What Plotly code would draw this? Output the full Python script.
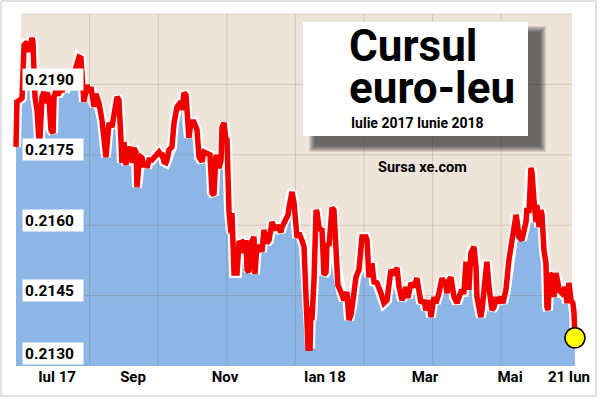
import plotly.graph_objects as go

# days since 3 Jul 2017
days = [0.0,0.6,2.5,3.8,5.1,6.9,8.2,10.1,10.7,12.0,
13.3,14.5,15.2,16.4,17.7,18.9,19.6,20.8,22.1,23.4,
24.0,25.3,26.5,28.4,29.0,30.3,32.2,34.7,36.6,37.9,
39.8,41.0,41.7,42.9,44.8,46.1,47.4,49.3,50.5,52.4,
54.3,56.8,58.7,60.6,63.8,65.0,66.3,66.9,68.2,69.5,
70.1,71.4,72.6,73.3,74.5,75.8,76.4,77.7,78.9,79.6,
80.8,82.1,82.7,84.0,85.9,88.4,90.3,91.6,92.2,93.5,
94.7,95.4,96.6,98.5,99.8,101.7,104.2,104.8,106.1,107.4,
108.0,109.2,110.5,112.4,113.7,114.3,115.6,117.5,118.7,120.6,
122.5,123.8,125.0,126.3,126.9,128.2,129.5,130.1,131.4,132.6,
133.2,134.5,135.8,136.4,137.7,139.6,140.8,142.7,144.0,145.2,
145.9,147.1,148.4,150.3,150.9,152.2,153.5,154.1,155.3,156.6,
157.2,158.5,159.8,161.0,161.7,162.9,164.2,164.8,166.1,167.3,
168.0,170.5,171.8,172.4,173.7,174.3,175.6,176.8,177.5,178.7,
180.0,180.6,181.9,183.1,183.8,184.4,185.7,186.3,186.9,188.2,
189.5,190.1,191.3,192.6,193.2,194.5,195.8,196.4,197.7,198.9,
199.6,200.8,202.1,203.3,205.2,207.1,209.0,210.3,211.6,212.2,
214.7,216.6,218.5,221.0,221.7,222.9,224.8,226.1,228.0,230.5,
232.4,234.3,236.8,238.7,240.6,241.9,243.8,246.3,247.5,249.4,
251.3,253.2,255.8,257.7,258.9,260.8,262.1,264.0,265.2,267.1,
269.0,271.5,272.2,273.4,274.7,276.6,278.5,281.0,282.9,284.2,
284.8,286.1,287.3,289.2,290.5,291.1,293.6,294.3,296.8,297.4,
298.7,300.6,301.9,303.1,304.4,306.3,307.5,309.4,311.3,313.2,
313.9,315.8,316.4,317.6,319.5,322.1,322.7,324.0,325.2,325.9,
327.1,328.4,329.0,330.3,331.5,332.2,333.4,334.7,335.3,336.0,
337.2,338.5,339.7,341.0,342.3,342.9,344.8,346.7,348.0,349.2,
350.5,351.7,352.4,353.0]

rate = [0.21767,0.21863,0.21867,0.21871,0.21984,0.21990,0.21969,0.21999,0.21990,0.21873,
0.21845,0.21782,0.21788,0.21873,0.21884,0.21860,0.21882,0.21873,0.21803,0.21796,
0.21873,0.21888,0.21877,0.21892,0.21884,0.21897,0.21894,0.21909,0.21909,0.21937,
0.21958,0.21956,0.21931,0.21863,0.21899,0.21882,0.21894,0.21852,0.21880,0.21860,
0.21824,0.21745,0.21818,0.21809,0.21873,0.21867,0.21782,0.21733,0.21777,0.21728,
0.21767,0.21754,0.21767,0.21733,0.21764,0.21756,0.21681,0.21733,0.21745,0.21743,
0.21724,0.21735,0.21722,0.21739,0.21739,0.21750,0.21756,0.21750,0.21754,0.21735,
0.21733,0.21739,0.21760,0.21767,0.21818,0.21852,0.21863,0.21845,0.21882,0.21877,
0.21831,0.21786,0.21820,0.21820,0.21809,0.21803,0.21745,0.21735,0.21756,0.21754,
0.21750,0.21669,0.21664,0.21750,0.21743,0.21722,0.21739,0.21809,0.21818,0.21782,
0.21786,0.21632,0.21583,0.21626,0.21498,0.21498,0.21562,0.21564,0.21541,0.21568,
0.21505,0.21500,0.21562,0.21575,0.21496,0.21558,0.21547,0.21558,0.21543,0.21590,
0.21583,0.21562,0.21568,0.21605,0.21607,0.21596,0.21590,0.21600,0.21590,0.21585,
0.21596,0.21617,0.21622,0.21637,0.21669,0.21671,0.21647,0.21611,0.21573,0.21583,
0.21575,0.21568,0.21554,0.21483,0.21392,0.21338,0.21338,0.21426,0.21398,0.21483,
0.21632,0.21628,0.21596,0.21590,0.21594,0.21494,0.21500,0.21562,0.21556,0.21611,
0.21637,0.21632,0.21526,0.21472,0.21458,0.21440,0.21458,0.21398,0.21409,0.21426,
0.21489,0.21505,0.21575,0.21575,0.21568,0.21489,0.21519,0.21479,0.21477,0.21455,
0.21434,0.21440,0.21505,0.21494,0.21509,0.21468,0.21440,0.21468,0.21445,0.21477,
0.21468,0.21487,0.21434,0.21440,0.21419,0.21440,0.21404,0.21447,0.21434,0.21455,
0.21487,0.21472,0.21455,0.21483,0.21489,0.21447,0.21434,0.21458,0.21458,0.21522,
0.21468,0.21468,0.21541,0.21554,0.21511,0.21447,0.21404,0.21419,0.21519,0.21522,
0.21468,0.21419,0.21426,0.21447,0.21434,0.21447,0.21434,0.21462,0.21526,0.21568,
0.21575,0.21622,0.21611,0.21575,0.21568,0.21607,0.21637,0.21626,0.21722,0.21711,
0.21654,0.21607,0.21643,0.21596,0.21632,0.21622,0.21547,0.21519,0.21426,0.21419,
0.21498,0.21489,0.21447,0.21498,0.21477,0.21462,0.21455,0.21468,0.21434,0.21477,
0.21440,0.21434,0.21413,0.21360]

tick_days = [25.9, 73.9, 132.0, 195.1, 258.3, 312.0, 349.2]
tick_text = ["Iul 17", "Sep", "Nov", "Ian 18", "Mar", "Mai", "21 Iun"]
y_ticks = [0.2130, 0.2145, 0.2160, 0.2175, 0.2190]
y_range = [0.2130, 0.2205]

W, H = 600, 398
FONT = "Roboto, 'Liberation Sans', Arial, sans-serif"
BLUE = "#8db5e5"
BEIGE = "#efe4da"
RED = "#f20000"
GRID = "rgba(110,85,60,0.20)"

def px(x):
    return x / W

def py(y):
    return 1 - y / H

fig = go.Figure()
fig.add_trace(go.Scatter(x=days, y=rate, mode="lines", fill="tozeroy",
                         fillcolor=BLUE, line=dict(color="white", width=10),
                         hoverinfo="skip"))
fig.add_trace(go.Scatter(x=days, y=rate, mode="lines",
                         line=dict(color=RED, width=5.5), hoverinfo="skip"))
fig.add_trace(go.Scatter(x=[days[-1]], y=[rate[-1]], mode="markers",
                         marker=dict(color="#ffff00", size=20,
                                     line=dict(color="black", width=1.5)),
                         hoverinfo="skip"))

shapes = []
# beige plotting panel
shapes.append(dict(type="rect", xref="paper", yref="paper", layer="below",
                   x0=px(21), x1=px(572), y0=py(366), y1=py(14),
                   fillcolor=BEIGE, line=dict(width=0)))
# grid
for v in y_ticks[1:]:
    shapes.append(dict(type="line", xref="paper", yref="y", layer="above",
                       x0=px(21), x1=px(572), y0=v, y1=v,
                       line=dict(color=GRID, width=1)))
shapes.append(dict(type="line", xref="paper", yref="paper", layer="above",
                   x0=px(21), x1=px(572), y0=py(14), y1=py(14),
                   line=dict(color=GRID, width=1)))
for k in range(1, 8):
    xx = 21 + 68.6 * k
    shapes.append(dict(type="line", xref="paper", yref="paper", layer="above",
                       x0=px(xx), x1=px(xx), y0=py(366), y1=py(14),
                       line=dict(color=GRID, width=1)))
# title box shadow (soft, blurred look)
for e in [6, 5, 4, 3, 2, 1, 0]:
    shapes.append(dict(type="rect", xref="paper", yref="paper", layer="above",
                       x0=px(303 + 12 - e), x1=px(528 + 12 + e),
                       y0=py(136 + 10 + e), y1=py(22 + 10 - e),
                       fillcolor="rgba(30,30,30,0.13)", line=dict(width=0)))
shapes.append(dict(type="rect", xref="paper", yref="paper", layer="above",
                   x0=px(303), x1=px(528), y0=py(136), y1=py(22),
                   fillcolor="white", line=dict(width=0)))
# outer frame
shapes.append(dict(type="rect", xref="paper", yref="paper", layer="above",
                   x0=px(1), x1=px(596), y0=py(396), y1=py(1),
                   fillcolor="rgba(0,0,0,0)", line=dict(color="#c4c4c4", width=1)))

annotations = []
for i, v in enumerate(y_ticks):
    annotations.append(dict(xref="paper", yref="y", x=px(22), y=v,
                            xanchor="left", yanchor="middle",
                            yshift=13 if i == 0 else 5,
                            text="<b>%.4f</b>" % v, showarrow=False,
                            bgcolor="white", width=56, height=17, align="left",
                            borderpad=2,
                            font=dict(family=FONT, size=15.5, color="black")))

def label(text, x, y, size, h=None):
    d = dict(xref="paper", yref="paper", x=px(x), y=py(y),
             xanchor="left", yanchor="middle", showarrow=False,
             text="<b>%s</b>" % text,
             font=dict(family=FONT, size=size, color="black"))
    if h:
        d["height"] = h
    annotations.append(d)

label("Cursul", 347, 46, 44, 36)
label("euro-leu", 347, 88, 44, 36)
label("Iulie 2017 Iunie 2018", 349, 123, 14)
label("Sursa xe.com", 376, 167, 14.5)

fig.update_layout(
    width=W, height=H, margin=dict(l=0, r=0, t=0, b=0),
    paper_bgcolor="white", plot_bgcolor="rgba(0,0,0,0)",
    showlegend=False, shapes=shapes, annotations=annotations,
    xaxis=dict(domain=[px(10), px(590)], range=[-3.79, 362.5],
               showgrid=False, zeroline=False, showline=False, ticks="",
               tickmode="array", tickvals=tick_days,
               ticktext=["<b>%s</b>" % t for t in tick_text],
               tickfont=dict(family=FONT, size=15, color="black")),
    yaxis=dict(domain=[py(366), py(14)], range=y_range, showgrid=False,
               zeroline=False, showline=False, showticklabels=False, ticks=""),
)

fig.write_html("out.html", config={"displayModeBar": False},
               post_script="document.body.style.margin='0px';"
                           "document.body.style.overflow='hidden';")
